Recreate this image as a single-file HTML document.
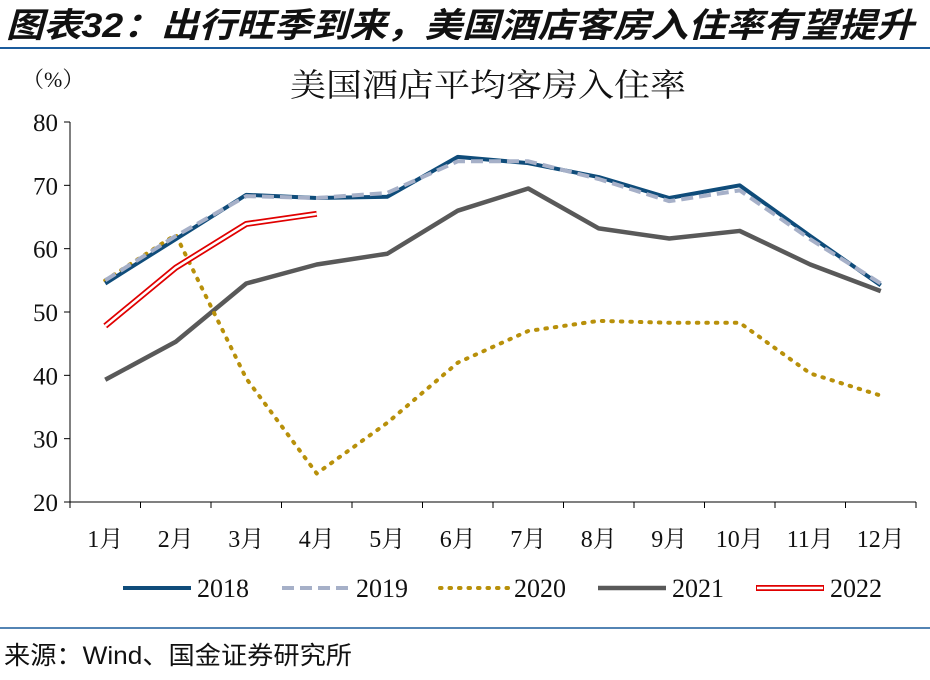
<!DOCTYPE html>
<html><head><meta charset="utf-8"><style>
body{margin:0;background:#fff;width:930px;height:675px;overflow:hidden;font-family:"Liberation Serif","Noto Serif CJK SC",serif}
</style></head><body>
<svg width="930" height="675" xmlns="http://www.w3.org/2000/svg">
<text x="6" y="37" font-size="34" font-weight="bold" font-style="italic" fill="#111" font-family="Liberation Sans,Noto Sans CJK SC,sans-serif" textLength="908" lengthAdjust="spacingAndGlyphs">图表32：出行旺季到来，美国酒店客房入住率有望提升</text>
<line x1="0" y1="48" x2="930" y2="48" stroke="#1a5b9c" stroke-width="2"/>
<text x="22" y="87" font-size="22" fill="#111">（%）</text>
<text x="488" y="96" font-size="32" text-anchor="middle" fill="#111" font-family="Noto Serif CJK SC,serif" textLength="396" lengthAdjust="spacingAndGlyphs">美国酒店平均客房入住率</text>
<g id="axes"></g><g id="series"></g><g id="legend"></g>
<line x1="0" y1="628" x2="930" y2="628" stroke="#1a5b9c" stroke-width="1.5"/>
<text x="4" y="664" font-size="25" fill="#111" font-family="Liberation Sans,Noto Sans CJK SC,sans-serif" textLength="348" lengthAdjust="spacingAndGlyphs">来源：Wind、国金证券研究所</text>
</svg>
<script>
const categories=["1月","2月","3月","4月","5月","6月","7月","8月","9月","10月","11月","12月"];
const yTicks=[20,30,40,50,60,70,80];
const s2018=[54.5,61.5,68.5,68,68.2,74.5,73.5,71.3,68,70,62,54.2];
const s2019=[55,62,68.3,68,68.8,73.8,73.8,71,67.5,69.2,61.5,54.5];
const s2020=[55,62.2,39.5,24.5,32.5,42,47,48.6,48.3,48.3,40.3,36.8];
const s2021=[39.3,45.3,54.5,57.5,59.2,66,69.5,63.2,61.6,62.8,57.5,53.3];
const s2022=[47.8,57,63.9,65.5];
const seriesNames=["2018","2019","2020","2021","2022"];
const NS="http://www.w3.org/2000/svg";
const L=70,R=916,T=122,B=502,ymin=20,ymax=80;
const bw=(R-L)/categories.length;
const x=i=>L+bw*(i+0.5);
const y=v=>B-(v-ymin)/(ymax-ymin)*(B-T);
function mk(tag,at,parent){const e=document.createElementNS(NS,tag);for(const k in at)e.setAttribute(k,at[k]);parent.appendChild(e);return e;}
const ax=document.getElementById('axes');
let e=mk('line',{x1:L,y1:T,x2:L,y2:B,stroke:'#000','stroke-width':1},ax);


e=mk('line',{x1:L,y1:B,x2:R,y2:B,stroke:'#000','stroke-width':1},ax);


yTicks.forEach(v=>{
 let t=mk('line',{x1:L-6,y1:y(v),x2:L,y2:y(v),stroke:'#000'},ax);
 
 
 let tx=mk('text',{x:L-12,y:y(v)+9,'font-size':25,'text-anchor':'end',fill:'#111'},ax);tx.textContent=v;
 
 
});
categories.forEach((c,i)=>{
 let t=mk('line',{x1:L+bw*i,y1:B,x2:L+bw*i,y2:B+6,stroke:'#000'},ax);
 
 
 let tx=mk('text',{x:x(i),y:B+45,'font-size':24,'text-anchor':'middle',fill:'#111'},ax);tx.textContent=c;
 
 
});
mk('line',{x1:R,y1:B,x2:R,y2:B+6,stroke:'#000'},ax);
const sg=document.getElementById('series');
const pts=a=>a.map((v,i)=>x(i)+','+y(v)).join(' ');
function draw(a,name,st){
 if(name==='2022'){
  let o=mk('polyline',{points:pts(a),fill:'none',stroke:'#e00000','stroke-width':6,'stroke-linejoin':'round'},sg);
  
  
  let w=mk('polyline',{points:pts(a),fill:'none',stroke:'#fff','stroke-width':2.5,'stroke-linejoin':'round'},sg);
  
  
  return;
 }
 let p=mk('polyline',Object.assign({points:pts(a),fill:'none','stroke-linejoin':'round'},st),sg);
 
 
}
const styles={"2018":{stroke:'#0f4c7a','stroke-width':4},"2019":{stroke:'#a6b0c8','stroke-width':4,'stroke-dasharray':'12,6'},"2020":{stroke:'#b8900a','stroke-width':4,'stroke-dasharray':'1.5,8','stroke-linecap':'round'},"2021":{stroke:'#595959','stroke-width':4.5}};
draw(s2021,'2021',styles["2021"]);
draw(s2020,'2020',styles["2020"]);
draw(s2018,'2018',styles["2018"]);
draw(s2019,'2019',styles["2019"]);
draw(s2022,'2022');
const lg=document.getElementById('legend');
const lx=[123,282,440,598,756];
seriesNames.forEach((n,i)=>{
 const g=mk('g',{},lg);
 
 
 if(n==='2022'){
  mk('line',{x1:lx[i],y1:588,x2:lx[i]+68,y2:588,stroke:'#e00000','stroke-width':6},g);
  mk('line',{x1:lx[i]+1,y1:588,x2:lx[i]+67,y2:588,stroke:'#fff','stroke-width':2.5},g);
 } else mk('line',Object.assign({x1:lx[i],y1:588,x2:lx[i]+68,y2:588},styles[n]),g);
 const t=mk('text',{x:lx[i]+74,y:597,'font-size':26,fill:'#111'},g);t.textContent=n;
});
</script>
</body></html>
